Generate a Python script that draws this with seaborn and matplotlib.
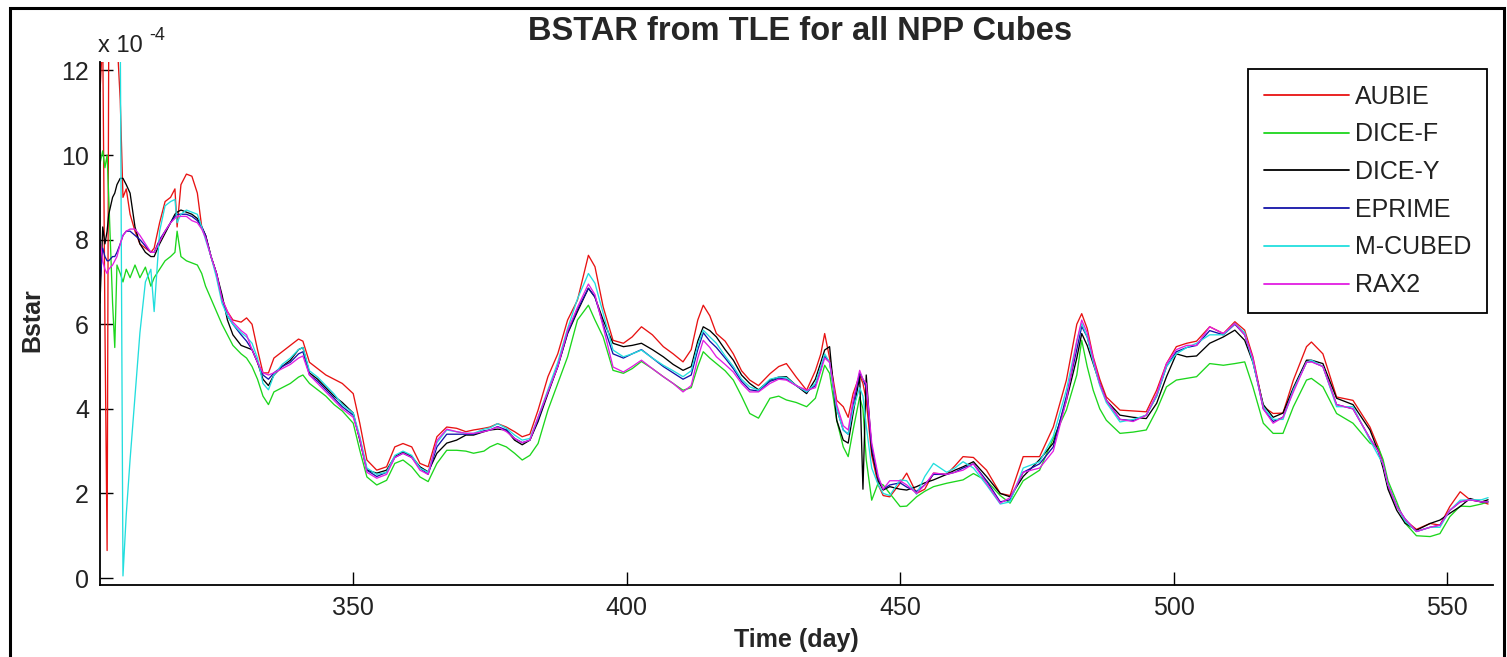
import numpy as np
import pandas as pd
import matplotlib
matplotlib.use("Agg")
import matplotlib.pyplot as plt
import seaborn as sns
from matplotlib.patches import Rectangle
from matplotlib.lines import Line2D

# ---------------- data (Bstar in units of 1e-4) ----------------
days = [303.7, 304.2, 304.6, 305.0, 305.3, 306.0, 306.4, 306.8, 307.4, 307.9,
        308.5, 309.2, 310.1, 311.0, 312.0, 313.0, 313.6, 314.6, 315.6, 316.6,
        317.4, 317.8, 318.5, 319.5, 320.5, 321.5, 322.3, 323.0, 324.0, 325.0,
        326.0, 327.0, 328.0, 329.5, 330.5, 331.5, 332.5, 333.5, 334.5, 335.5,
        337.0, 338.5, 340.0, 340.8, 342.0, 343.5, 345.0, 346.5, 348.0, 350.0,
        351.2, 352.5, 354.3, 356.1, 357.6, 359.1, 360.7, 362.2, 363.7, 365.3,
        367.1, 368.9, 370.6, 372.0, 373.9, 375.0, 376.4, 378.0, 379.5, 380.9,
        382.3, 383.8, 385.6, 387.4, 389.2, 391.0, 393.0, 394.2, 395.7, 397.5,
        399.4, 401.0, 402.7, 404.7, 406.7, 408.5, 410.3, 411.8, 413.0, 414.0,
        415.2, 416.4, 418.0, 419.5, 421.0, 422.5, 424.1, 426.2, 427.8, 429.2,
        431.0, 432.9, 434.5, 435.5, 436.2, 437.1, 438.4, 439.6, 440.5, 441.4,
        442.6, 443.2, 443.8, 444.8, 446.0, 446.9, 448.1, 450.0, 451.2, 453.0,
        454.5, 456.1, 458.5, 460.0, 461.5, 463.4, 465.8, 468.3, 470.1, 472.5,
        475.5, 478.0, 480.4, 482.3, 483.2, 484.2, 485.3, 486.5, 487.7, 490.2,
        492.6, 495.0, 496.9, 498.7, 500.5, 502.4, 504.2, 506.6, 509.1, 511.2,
        513.0, 514.5, 516.4, 518.2, 520.0, 521.9, 524.3, 525.2, 527.3, 529.8,
        532.8, 535.9, 537.4, 538.3, 539.2, 540.8, 542.3, 544.4, 546.9, 548.7,
        550.5, 552.4, 554.2, 556.3, 557.5]

aubie = [11.5, 12.8, 6.0, 0.65, 12.8, 12.8, 12.8, 12.8, 11.3, 9.0,
         9.2, 8.6, 8.2, 7.9, 7.8, 7.7, 7.8, 8.4, 8.9, 9.0,
         9.2, 8.3, 9.3, 9.55, 9.5, 9.1, 8.3, 8.1, 7.6, 7.2,
         6.6, 6.3, 6.1, 6.05, 6.15, 6.0, 5.4, 4.85, 4.85, 5.2,
         5.35, 5.5, 5.65, 5.6, 5.1, 4.95, 4.8, 4.7, 4.6, 4.36,
         3.66, 2.79, 2.55, 2.63, 3.1, 3.18, 3.1, 2.71, 2.63, 3.34,
         3.57, 3.54, 3.46, 3.5, 3.54, 3.57, 3.65, 3.57, 3.46, 3.34,
         3.4, 3.97, 4.76, 5.3, 6.1, 6.57, 7.63, 7.36, 6.41, 5.62,
         5.55, 5.7, 5.94, 5.75, 5.47, 5.3, 5.11, 5.4, 6.1, 6.45,
         6.2, 5.78, 5.6, 5.3, 4.9, 4.68, 4.55, 4.83, 5.0, 5.07,
         4.75, 4.44, 4.9, 5.3, 5.78, 5.2, 4.2, 4.05, 3.8, 4.36,
         4.8, 4.6, 4.2, 2.9, 2.2, 1.95, 1.92, 2.24, 2.48, 2.0,
         2.1, 2.48, 2.45, 2.65, 2.87, 2.85, 2.55, 2.0, 1.95, 2.87,
         2.87, 3.57, 4.68, 6.0, 6.25, 5.9, 5.23, 4.7, 4.28, 3.97,
         3.95, 3.93, 4.44, 5.07, 5.47, 5.55, 5.6, 5.94, 5.78, 6.06,
         5.86, 5.23, 4.05, 3.89, 3.9, 4.68, 5.47, 5.58, 5.3, 4.28,
         4.2, 3.57, 3.1, 2.71, 2.16, 1.69, 1.37, 1.15, 1.29, 1.25,
         1.69, 2.04, 1.85, 1.8, 1.75]

dice_f = [9.8, 10.1, 9.7, 10.0, 9.0, 6.5, 5.45, 7.4, 7.2, 7.0,
          7.3, 7.1, 7.4, 7.1, 7.35, 6.9, 7.1, 7.3, 7.5, 7.6,
          7.7, 8.2, 7.6, 7.5, 7.45, 7.4, 7.2, 6.9, 6.6, 6.3,
          6.0, 5.75, 5.5, 5.3, 5.2, 5.0, 4.7, 4.3, 4.1, 4.4,
          4.5, 4.6, 4.75, 4.8, 4.6, 4.45, 4.3, 4.1, 3.95, 3.66,
          3.02, 2.39, 2.2, 2.31, 2.71, 2.79, 2.63, 2.39, 2.28, 2.71,
          3.02, 3.02, 3.0, 2.95, 3.0, 3.1, 3.18, 3.1, 2.95, 2.79,
          2.9, 3.18, 3.97, 4.6, 5.23, 6.1, 6.45, 6.1, 5.7, 4.91,
          4.84, 4.95, 5.12, 4.95, 4.76, 4.6, 4.44, 4.5, 5.0, 5.35,
          5.2, 5.07, 4.9, 4.68, 4.3, 3.89, 3.78, 4.25, 4.3, 4.21,
          4.15, 4.05, 4.25, 4.7, 5.03, 4.84, 3.73, 3.1, 2.87, 3.5,
          4.28, 4.0, 2.8, 1.84, 2.25, 2.2, 2.0, 1.69, 1.7, 1.92,
          2.05, 2.16, 2.24, 2.28, 2.32, 2.47, 2.3, 1.95, 1.77, 2.3,
          2.55, 3.3, 3.97, 4.8, 5.62, 5.0, 4.44, 4.0, 3.73, 3.42,
          3.45, 3.5, 3.97, 4.52, 4.68, 4.72, 4.76, 5.07, 5.03, 5.07,
          5.11, 4.52, 3.66, 3.42, 3.42, 4.05, 4.68, 4.72, 4.52, 3.89,
          3.66, 3.19, 3.1, 2.8, 2.3, 1.8, 1.3, 1.0, 0.98, 1.05,
          1.45, 1.7, 1.69, 1.75, 1.8]

dice_y = [6.5, 8.3, 7.9, 8.2, 8.6, 9.0, 9.1, 9.3, 9.45, 9.45,
          9.3, 9.1, 8.3, 7.9, 7.7, 7.6, 7.6, 7.9, 8.15, 8.4,
          8.6, 8.65, 8.7, 8.65, 8.6, 8.5, 8.3, 8.1, 7.6, 7.2,
          6.7, 6.1, 5.75, 5.5, 5.45, 5.4, 5.1, 4.7, 4.55, 4.8,
          5.0, 5.15, 5.4, 5.45, 4.85, 4.7, 4.5, 4.3, 4.15, 3.9,
          3.26, 2.55, 2.48, 2.55, 2.87, 2.98, 2.87, 2.63, 2.51, 2.95,
          3.19, 3.26, 3.38, 3.38, 3.46, 3.5, 3.52, 3.5, 3.26, 3.15,
          3.26, 3.7, 4.36, 5.0, 5.78, 6.3, 6.85, 6.64, 6.1, 5.55,
          5.47, 5.5, 5.55, 5.4, 5.23, 5.05, 4.91, 5.0, 5.6, 5.94,
          5.85, 5.7, 5.4, 5.15, 4.8, 4.6, 4.45, 4.68, 4.75, 4.76,
          4.55, 4.36, 4.7, 5.1, 5.39, 5.47, 3.73, 3.26, 3.19, 3.9,
          4.76, 2.1, 4.8, 3.0, 2.3, 2.08, 2.16, 2.1, 2.08, 2.16,
          2.25, 2.32, 2.45, 2.55, 2.63, 2.75, 2.4, 2.0, 1.92, 2.4,
          2.8, 3.19, 4.2, 5.2, 5.78, 5.5, 5.07, 4.6, 4.2, 3.85,
          3.8, 3.77, 4.13, 4.76, 5.3, 5.23, 5.25, 5.55, 5.7, 5.86,
          5.62, 5.1, 4.1, 3.8, 3.9, 4.5, 5.15, 5.15, 5.07, 4.25,
          4.1, 3.5, 3.0, 2.6, 2.1, 1.6, 1.3, 1.13, 1.29, 1.37,
          1.53, 1.69, 1.88, 1.8, 1.85]

eprime = [7.0, 7.8, 7.6, 7.5, 7.5, 7.6, 7.6, 7.7, 7.9, 8.1,
          8.2, 8.2, 8.1, 8.0, 7.85, 7.7, 7.7, 8.0, 8.2, 8.4,
          8.55, 8.6, 8.6, 8.6, 8.55, 8.45, 8.3, 8.1, 7.6, 7.2,
          6.6, 6.2, 6.0, 5.75, 5.6, 5.4, 5.1, 4.8, 4.7, 4.85,
          5.0, 5.1, 5.3, 5.35, 4.8, 4.65, 4.45, 4.25, 4.05, 3.85,
          3.3, 2.55, 2.4, 2.5, 2.85, 2.95, 2.85, 2.6, 2.45, 3.1,
          3.4, 3.4, 3.4, 3.4, 3.48, 3.5, 3.58, 3.5, 3.3, 3.2,
          3.26, 3.75, 4.4, 5.0, 5.8, 6.35, 6.85, 6.65, 6.0, 5.3,
          5.2, 5.3, 5.4, 5.2, 5.0, 4.85, 4.7, 4.8, 5.4, 5.8,
          5.6, 5.45, 5.2, 4.95, 4.65, 4.45, 4.42, 4.65, 4.72, 4.7,
          4.55, 4.4, 4.55, 4.95, 5.25, 5.1, 4.0, 3.5, 3.4, 4.1,
          4.85, 4.7, 4.5, 3.1, 2.35, 2.1, 2.2, 2.25, 2.15, 2.05,
          2.2, 2.45, 2.45, 2.5, 2.6, 2.7, 2.3, 1.8, 1.85, 2.5,
          2.7, 3.1, 4.3, 5.4, 5.95, 5.7, 5.15, 4.6, 4.2, 3.75,
          3.72, 3.85, 4.3, 5.0, 5.35, 5.45, 5.5, 5.85, 5.75, 6.0,
          5.75, 5.15, 4.0, 3.7, 3.8, 4.45, 5.1, 5.12, 5.0, 4.1,
          4.0, 3.3, 3.0, 2.7, 2.2, 1.7, 1.4, 1.1, 1.2, 1.25,
          1.6, 1.8, 1.85, 1.8, 1.8]

m_cubed = [13.0, 13.0, 13.0, 13.0, 13.0, 13.0, 13.0, 13.0, 13.0, 0.05,
           1.5, 2.8, 4.3, 5.8, 7.0, 7.3, 6.3, 8.2, 8.8, 8.9,
           8.95, 8.4, 8.6, 8.7, 8.65, 8.6, 8.3, 8.0, 7.6, 7.1,
           6.5, 6.2, 6.0, 5.8, 5.7, 5.55, 5.2, 4.6, 4.45, 4.8,
           5.05, 5.2, 5.4, 5.45, 4.9, 4.75, 4.55, 4.35, 4.1, 3.9,
           3.35, 2.6, 2.45, 2.5, 2.9, 3.0, 2.9, 2.6, 2.5, 3.2,
           3.5, 3.46, 3.42, 3.42, 3.52, 3.55, 3.65, 3.54, 3.38, 3.26,
           3.3, 3.8, 4.45, 5.1, 5.9, 6.6, 7.2, 6.97, 6.26, 5.39,
           5.23, 5.3, 5.39, 5.2, 5.03, 4.9, 4.76, 4.9, 5.5, 5.86,
           5.7, 5.55, 5.25, 5.0, 4.7, 4.52, 4.44, 4.7, 4.75, 4.74,
           4.55, 4.4, 4.6, 5.0, 5.3, 5.1, 4.0, 3.5, 3.4, 4.0,
           4.5, 4.3, 3.6, 2.6, 2.2, 2.0, 1.95, 2.32, 2.3, 1.98,
           2.4, 2.71, 2.5, 2.6, 2.75, 2.6, 2.2, 1.75, 1.8, 2.6,
           2.75, 3.35, 4.45, 5.6, 6.02, 5.7, 5.1, 4.55, 4.15, 3.69,
           3.75, 3.85, 4.3, 5.0, 5.3, 5.45, 5.55, 5.75, 5.75, 6.02,
           5.8, 5.1, 4.05, 3.75, 3.75, 4.45, 5.1, 5.15, 5.0, 4.05,
           4.05, 3.26, 2.9, 2.7, 2.2, 1.7, 1.35, 1.1, 1.2, 1.2,
           1.6, 1.84, 1.85, 1.85, 1.9]

rax2 = [8.0, 7.5, 7.3, 7.2, 7.3, 7.4, 7.5, 7.6, 7.9, 8.1,
        8.2, 8.25, 8.25, 8.1, 7.9, 7.7, 7.7, 7.95, 8.2, 8.4,
        8.5, 8.55, 8.55, 8.55, 8.45, 8.4, 8.25, 8.05, 7.6, 7.2,
        6.6, 6.3, 6.05, 5.85, 5.75, 5.4, 5.1, 4.85, 4.8, 4.85,
        4.95, 5.05, 5.2, 5.25, 4.8, 4.6, 4.4, 4.2, 4.0, 3.8,
        3.3, 2.5, 2.36, 2.45, 2.85, 2.95, 2.85, 2.55, 2.45, 3.25,
        3.52, 3.46, 3.42, 3.42, 3.46, 3.5, 3.57, 3.46, 3.3, 3.2,
        3.26, 3.8, 4.4, 5.0, 5.85, 6.4, 6.95, 6.7, 5.94, 4.99,
        4.87, 5.0, 5.15, 4.95, 4.76, 4.6, 4.4, 4.55, 5.2, 5.62,
        5.45, 5.23, 5.05, 4.87, 4.6, 4.4, 4.4, 4.6, 4.7, 4.68,
        4.55, 4.44, 4.5, 4.9, 5.2, 5.1, 4.1, 3.6, 3.5, 4.2,
        4.91, 4.7, 4.6, 3.2, 2.4, 2.1, 2.3, 2.3, 2.2, 2.0,
        2.2, 2.48, 2.45, 2.5, 2.55, 2.7, 2.24, 1.77, 1.9, 2.5,
        2.6, 3.0, 4.2, 5.6, 6.1, 5.8, 5.2, 4.6, 4.2, 3.75,
        3.7, 3.85, 4.35, 5.07, 5.4, 5.5, 5.5, 5.94, 5.78, 6.02,
        5.75, 5.2, 4.0, 3.66, 3.8, 4.4, 5.1, 5.11, 5.0, 4.1,
        4.0, 3.3, 3.0, 2.7, 2.2, 1.7, 1.4, 1.1, 1.2, 1.25,
        1.6, 1.8, 1.85, 1.8, 1.8]

names = ["AUBIE", "DICE-F", "DICE-Y", "EPRIME", "M-CUBED", "RAX2"]
series = [aubie, dice_f, dice_y, eprime, m_cubed, rax2]
colors = ["#e81212", "#1cd61c", "#000000", "#1414a8", "#22dede", "#e21ee2"]

x_ticks = [350, 400, 450, 500, 550]
y_ticks = [0, 2, 4, 6, 8, 10, 12]

# ---------------- build long table ----------------
frames = []
for n, v in zip(names, series):
    frames.append(pd.DataFrame({"day": days, "bstar": v, "cube": n}))
df = pd.concat(frames, ignore_index=True)

sns.set_style("ticks")
plt.rcParams["font.family"] = ["Liberation Sans", "DejaVu Sans"]

W, H = 1507, 657
fig = plt.figure(figsize=(W / 100, H / 100), dpi=100)
ax = fig.add_axes([100 / W, 1 - 585 / H, 1393 / W, 523 / H])

sns.lineplot(data=df, x="day", y="bstar", hue="cube", hue_order=names,
             palette=dict(zip(names, colors)), estimator=None, sort=False,
             linewidth=0.95, ax=ax, legend=False)

ax.set_xlim(303.7, 558.4)
ax.set_ylim(-0.165, 12.2)
ax.set_xticks(x_ticks)
ax.set_yticks(y_ticks)
ax.set_xticklabels([str(t) for t in x_ticks])
ax.set_yticklabels([str(t) for t in y_ticks])
ax.set_xlabel("")
ax.set_ylabel("")
ax.tick_params(direction="in", length=9.5, width=1.0, labelsize=18,
               colors="black", labelcolor="#222222", pad=8)
for s in ["top", "right"]:
    ax.spines[s].set_visible(False)
for s in ["left", "bottom"]:
    ax.spines[s].set_linewidth(1.3)
    ax.spines[s].set_color("black")

# legend
handles = [Line2D([0], [0], color=c, lw=1.3) for c in colors]
leg = ax.legend(handles, names, loc="upper right",
                bbox_to_anchor=((1487 - 100) / 1393, (585 - 69) / 523),
                borderaxespad=0, fontsize=18, frameon=True, fancybox=False,
                handlelength=3.4, handletextpad=0.25, labelspacing=0.55,
                borderpad=0.62)
leg.get_frame().set_edgecolor("black")
leg.get_frame().set_linewidth(1.3)
leg.get_frame().set_facecolor("white")
leg.get_frame().set_alpha(1)
for t in leg.get_texts():
    t.set_color("#222222")

# texts
fig.text(800 / W, 1 - 32 / H, "BSTAR from TLE for all NPP Cubes",
         ha="center", va="center", fontsize=23.5, fontweight="bold")
fig.text(796 / W, 1 - 640 / H, "Time (day)", ha="center", va="center",
         fontsize=18, fontweight="bold")
fig.text(32 / W, 1 - 320 / H, "Bstar", ha="center", va="center",
         rotation=90, fontsize=18, fontweight="bold")
fig.text(98 / W, 1 - 46 / H, "x 10", ha="left", va="center", fontsize=17,
         color="#222222")
fig.text(149 / W, 1 - 35 / H, "-4", ha="left", va="center", fontsize=13,
         color="#222222")

# figure border
fig.patches.append(Rectangle((10 / W, -0.05), (1504 - 10) / W, 1.05 - 8 / H,
                             transform=fig.transFigure, fill=False,
                             edgecolor="black", linewidth=2.2))

fig.savefig("out.png", dpi=100, facecolor="white")
